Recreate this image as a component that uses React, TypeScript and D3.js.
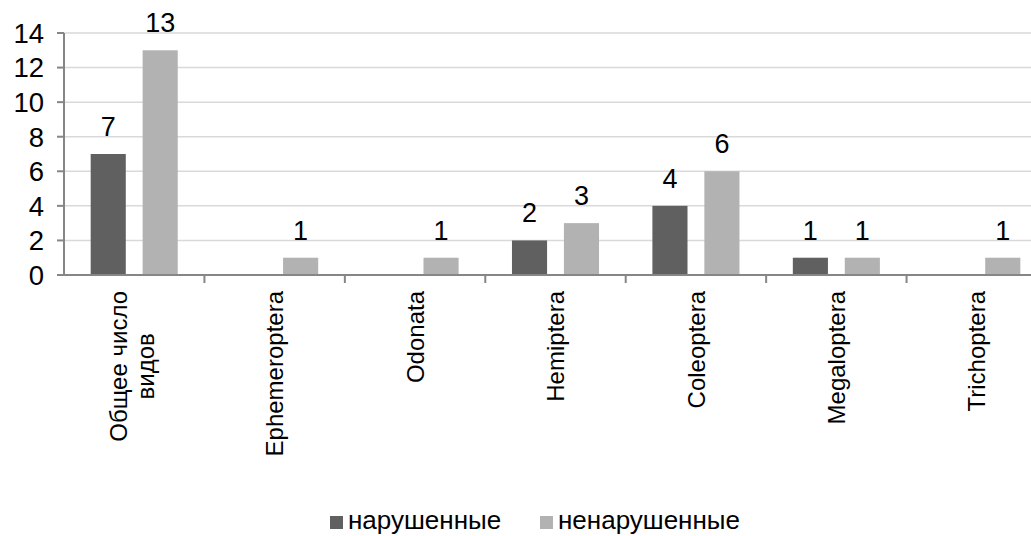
import React from "react";
import * as d3 from "d3";

const categories: string[][] = [
  ["Общее число", "видов"],
  ["Ephemeroptera"],
  ["Odonata"],
  ["Hemiptera"],
  ["Coleoptera"],
  ["Megaloptera"],
  ["Trichoptera"],
];
const disturbed: (number | null)[] = [7, null, null, 2, 4, 1, null];
const undisturbed: (number | null)[] = [13, 1, 1, 3, 6, 1, 1];
const seriesNames = ["нарушенные", "ненарушенные"];
const seriesColors = ["#606060", "#b2b2b2"];
const yTicks = [0, 2, 4, 6, 8, 10, 12, 14];

const W = 1031;
const H = 536;
const left = 64;
const right = 1047;
const top = 33;
const bottom = 275;
const font = "Arial, 'Liberation Sans', sans-serif";
const catFont = 24;

function measure(text: string, size: number): number {
  if (typeof document === "undefined") return text.length * size * 0.55;
  const c = document.createElement("canvas").getContext("2d");
  if (!c) return text.length * size * 0.55;
  c.font = `${size}px Arial, 'Liberation Sans', sans-serif`;
  return c.measureText(text).width;
}

export default function App() {
  const idx = categories.map((_, i) => String(i));
  const x = d3.scaleBand<string>().domain(idx).range([left, right]);
  const y = d3.scaleLinear().domain([0, 14]).range([bottom, top]);
  const bw = x.bandwidth();
  const barW = bw * 0.25;
  const gap = bw * 0.12;
  const series = [disturbed, undisturbed];
  const labelTop = 291;

  return (
    <svg width={W} height={H} style={{ position: "absolute", left: 0, top: 0, background: "#fff" }} fontFamily={font}>
      {yTicks.map((t) => (
        <g key={t}>
          {t > 0 && <line x1={left} x2={W} y1={y(t)} y2={y(t)} stroke="#d9d9d9" strokeWidth={1.5} />}
          <line x1={left - 7} x2={left} y1={y(t)} y2={y(t)} stroke="#868686" strokeWidth={2} />
          <text x={44} y={y(t)} dy="0.36em" textAnchor="end" fontSize={27.5} fill="#000">{t}</text>
        </g>
      ))}
      {series.map((vals, s) =>
        vals.map((v, i) => {
          if (v == null) return null;
          const cx = x(String(i))! + bw / 2;
          const bx = s === 0 ? cx - gap / 2 - barW : cx + gap / 2;
          return (
            <g key={`${s}-${i}`}>
              <rect x={bx} y={y(v)} width={barW} height={y(0) - y(v)} fill={seriesColors[s]} />
              <text x={bx + barW / 2} y={y(v) - 18} textAnchor="middle" fontSize={27} fill="#000">{v}</text>
            </g>
          );
        })
      )}
      <line x1={left} x2={left} y1={top} y2={bottom} stroke="#868686" strokeWidth={2} />
      <line x1={left - 7} x2={W} y1={bottom} y2={bottom} stroke="#868686" strokeWidth={2} />
      {idx.map((d) => (
        <line key={d} x1={x(d)! + bw} x2={x(d)! + bw} y1={bottom} y2={bottom + 8} stroke="#868686" strokeWidth={2} />
      ))}
      {categories.map((lines, i) => {
        const cx = x(String(i))! + bw / 2;
        const n = lines.length;
        const maxLen = d3.max(lines, (l) => measure(l, catFont)) || 0;
        const center = labelTop + maxLen / 2;
        return lines.map((ln, k) => {
          const off = (k - (n - 1) / 2) * 27 - (n > 1 ? 2.5 : 0);
          return (
            <text key={`${i}-${k}`} transform={`translate(${cx + off},${center}) rotate(-90)`} dy="0.36em" textAnchor="middle" fontSize={catFont} fill="#000">
              {ln}
            </text>
          );
        });
      })}
      {seriesNames.map((nm, s) => {
        const lx = s === 0 ? 330 : 540;
        return (
          <g key={nm}>
            <rect x={lx} y={516} width={13} height={13} fill={seriesColors[s]} />
            <text x={lx + 18} y={529} fontSize={26} fill="#000">{nm}</text>
          </g>
        );
      })}
    </svg>
  );
}
